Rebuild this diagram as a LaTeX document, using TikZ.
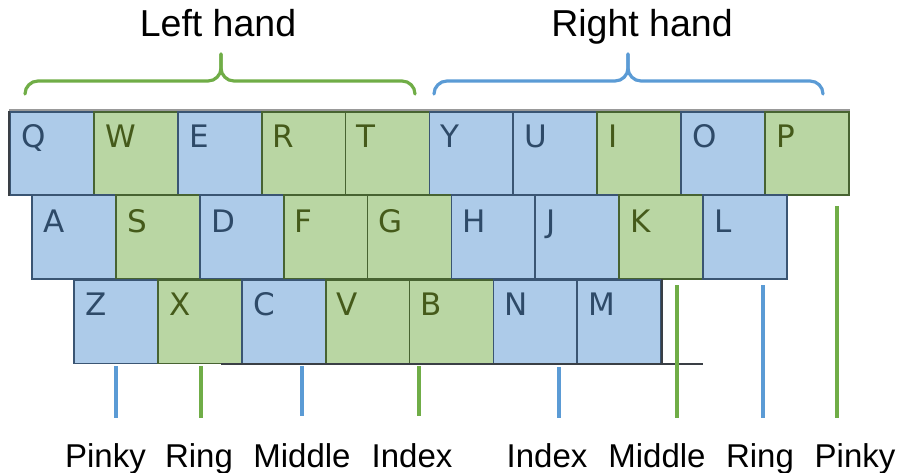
\documentclass[tikz,border=0pt]{standalone}
\usepackage{fontspec}
\setmainfont{Liberation Sans}
\newfontfamily\keyfont{DejaVu Sans}
\definecolor{kblue}{HTML}{ADCBE9}
\definecolor{kgreen}{HTML}{B9D6A3}
\definecolor{bblue}{HTML}{3A5573}
\definecolor{bgreen}{HTML}{476331}
\definecolor{tblue}{HTML}{2E4A68}
\definecolor{tgreen}{HTML}{455A1A}
\definecolor{lblue}{HTML}{5B9BD5}
\definecolor{lgreen}{HTML}{70AD47}
\definecolor{edge}{HTML}{3A3F45}
\begin{document}
\begin{tikzpicture}[x=1pt,y=-1pt,
  keybase/.style={rectangle,anchor=north west,minimum width=83.9pt,minimum height=83.5pt,inner sep=0pt,line width=1.8pt},
  keyb/.style={keybase,fill=kblue,draw=bblue},
  keyg/.style={keybase,fill=kgreen,draw=bgreen},
  letb/.style={anchor=base west,inner sep=0pt,text=tblue,font=\keyfont\fontsize{31}{37}\selectfont},
  letg/.style={anchor=base west,inner sep=0pt,text=tgreen,font=\keyfont\fontsize{31}{37}\selectfont},
  finb/.style={draw=lblue,line width=3.3pt},
  fing/.style={draw=lgreen,line width=3.3pt},
  brace/.style={line width=3.2pt,rounded corners=13pt,line cap=round},
  flabel/.style={anchor=base,inner sep=0pt,font=\fontsize{33}{39}\selectfont},
  title/.style={anchor=base,inner sep=0pt,font=\fontsize{37.5}{44}\selectfont}]
\useasboundingbox (0,0) rectangle (899,473);
% top row
\foreach \l/\c [count=\i from 0] in {Q/b,W/g,E/b,R/g,T/g,Y/b,U/b,I/g,O/b,P/g}{
  \node[key\c] (k\l) at (9+83.9*\i,111) {};
  \path (k\l.north west) ++(12,37) node[let\c] (t\l) {\l};
}
% home row
\foreach \l/\c [count=\i from 0] in {A/b,S/g,D/b,F/g,G/g,H/b,J/b,K/g,L/b}{
  \node[key\c] (k\l) at (31+83.9*\i,194.5) {};
  \path (k\l.north west) ++(12,38) node[let\c] (t\l) {\l};
}
% bottom row
\foreach \l/\c [count=\i from 0] in {Z/b,X/g,C/b,V/g,B/g,N/b,M/b}{
  \node[key\c] (k\l) at (73+83.9*\i,279) {};
  \path (k\l.north west) ++(12,36) node[let\c] (t\l) {\l};
}
% outline details
\draw[gray!80,line width=1.5pt] (kQ.north west) ++(0,-1) coordinate (g1) -- (kP.north east |- g1);
\draw[edge,line width=1.8pt] (kQ.north west) -- (kQ.south west);
\draw[edge,line width=1.8pt] (kM.south east) ++(-441,0) coordinate (bstart) -- (kM.south east) -- ++(41,0) coordinate (bend);
\draw[edge,line width=1.8pt] (kM.north east) -- (kM.south east);
% braces
\coordinate (lb1) at (25,94); \coordinate (lb2) at (415,94); \coordinate (lbt) at (221,54);
\coordinate (rb1) at (434,94); \coordinate (rb2) at (823,94); \coordinate (rbt) at (628,54);
\draw[brace,draw=lgreen] (lb1) |- (lbt |- 0,81) -- (lbt);
\draw[brace,draw=lgreen] (lb2) |- (lbt |- 0,81) -- (lbt);
\draw[brace,draw=lblue] (rb1) |- (rbt |- 0,81) -- (rbt);
\draw[brace,draw=lblue] (rb2) |- (rbt |- 0,81) -- (rbt);
\node[title] (lh) at (218,37) {Left hand};
\node[title] (rh) at (642,37) {Right hand};
% finger lines
\coordinate (f1a) at (116,366); \coordinate (f1b) at (116,418);
\coordinate (f2a) at (201,366); \coordinate (f2b) at (201,418);
\coordinate (f3a) at (302,366); \coordinate (f3b) at (302,416);
\coordinate (f4a) at (419,366); \coordinate (f4b) at (419,416);
\coordinate (f5a) at (559,367); \coordinate (f5b) at (559,418);
\coordinate (f6a) at (677,285); \coordinate (f6b) at (677,418);
\coordinate (f7a) at (763,285); \coordinate (f7b) at (763,418);
\coordinate (f8a) at (837,206); \coordinate (f8b) at (837,418);
\draw[finb] (f1a) -- (f1b);
\draw[fing] (f2a) -- (f2b);
\draw[finb] (f3a) -- (f3b);
\draw[fing] (f4a) -- (f4b);
\draw[finb] (f5a) -- (f5b);
\draw[fing] (f6a) -- (f6b);
\draw[finb] (f7a) -- (f7b);
\draw[fing] (f8a) -- (f8b);
% labels
\node[flabel] (n1) at (105.5,467) {Pinky};
\node[flabel] (n2) at (199,467) {Ring};
\node[flabel] (n3) at (302,467) {Middle};
\node[flabel] (n4) at (412,467) {Index};
\node[flabel] (n5) at (547,467) {Index};
\node[flabel] (n6) at (657,467) {Middle};
\node[flabel] (n7) at (760,467) {Ring};
\node[flabel] (n8) at (855,467) {Pinky};
\end{tikzpicture}
\end{document}
